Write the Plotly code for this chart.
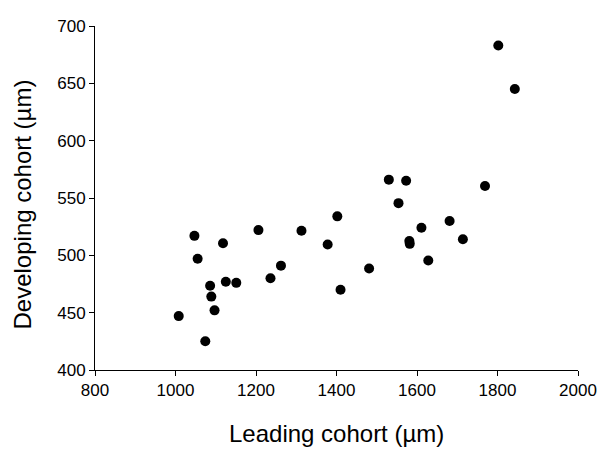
import plotly.graph_objects as go

leading = [1008, 1047, 1055, 1074, 1086, 1089, 1097, 1118, 1125, 1151,
           1206, 1236, 1262, 1313, 1378, 1402, 1410, 1481, 1530, 1554,
           1573, 1581, 1582, 1611, 1628, 1681, 1714, 1769, 1802, 1843]
developing = [447, 517, 497, 425, 473.5, 464, 452, 510.5, 477, 476,
              522, 480, 491, 521.5, 509.5, 534, 470, 488.5, 566, 545.5,
              565, 512.5, 510, 524, 495.5, 530, 514, 560.5, 683, 645]

x_ticks = [800, 1000, 1200, 1400, 1600, 1800, 2000]
y_ticks = [400, 450, 500, 550, 600, 650, 700]

x_title = "Leading cohort (µm)"
y_title = "Developing cohort (µm)"

fig = go.Figure(go.Scatter(
    x=leading, y=developing, mode="markers",
    marker=dict(color="black", size=10, line=dict(width=0)),
    showlegend=False, hoverinfo="x+y"))

font_family = "Arial, Liberation Sans, sans-serif"
axis_common = dict(showgrid=False, zeroline=False, showline=True,
                   linecolor="black", linewidth=1, ticks="outside",
                   ticklen=5, tickwidth=1, tickcolor="black",
                   ticklabeloverflow="allow",
                   tickfont=dict(family=font_family, size=17, color="black"))

# the page body adds an 8px offset, so the figure is sized/placed to compensate
fig.update_layout(
    width=597, height=442,
    margin=dict(l=87, r=19, t=8.5, b=79.5),
    plot_bgcolor="white", paper_bgcolor="white",
    font=dict(family=font_family, color="black"),
    xaxis=dict(range=[800, 2000], tickvals=x_ticks, **axis_common),
    yaxis=dict(range=[400, 700], tickvals=y_ticks, **axis_common),
    annotations=[
        dict(text=x_title, xref="paper", yref="paper", x=0.5, y=0,
             xanchor="center", yanchor="middle", yshift=-63.5,
             showarrow=False,
             font=dict(family=font_family, size=24, color="black")),
        dict(text=y_title, xref="paper", yref="paper", x=0, y=0.5,
             xanchor="center", yanchor="middle", xshift=-73.5, yshift=-7,
             textangle=-90, showarrow=False,
             font=dict(family=font_family, size=24, color="black")),
    ],
)

fig.write_html("out.html")
